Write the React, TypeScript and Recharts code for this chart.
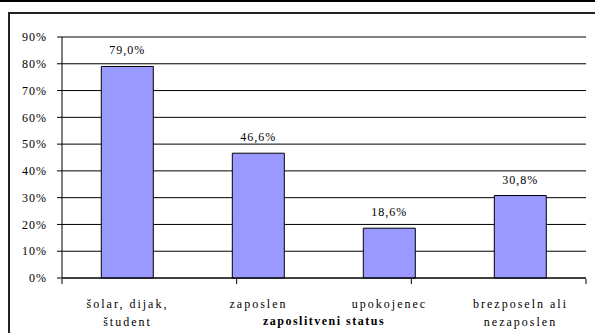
import { BarChart, Bar, XAxis, YAxis, CartesianGrid, LabelList } from 'recharts';

// Kategorije (zaposlitveni status) in deleži
const categories = ['šolar, dijak,\nštudent', 'zaposlen', 'upokojenec', 'brezposeln ali\nnezaposlen'];
const values = [79.0, 46.6, 18.6, 30.8];
const yTicks = [0, 10, 20, 30, 40, 50, 60, 70, 80, 90];
const bandEdges = [0, 1, 2, 3, 4];

const data = categories.map((name, i) => ({ name, value: values[i] }));

const FONT = 'Liberation Serif, Times New Roman, serif';

// dvovrstične oznake kategorij
const CategoryTick = ({ x, y, payload }: any) => {
  const lines = String(payload.value).split('\n');
  return (
    <text x={x} y={y} textAnchor="middle" style={{ fontFamily: FONT, fontSize: 12, letterSpacing: 2 }} fill="#000">
      {lines.map((line, i) => (
        <tspan key={i} x={x} dy={i === 0 ? 22 : 18}>
          {line}
        </tspan>
      ))}
    </text>
  );
};

export default function App() {
  return (
    <div style={{ position: 'fixed', left: 0, top: 0, width: 595, height: 333, overflow: 'hidden', background: '#fff', fontFamily: FONT }}>
      {/* zgornja črta in okvir grafikona */}
      <div style={{ position: 'absolute', left: 0, top: 0, width: 595, height: 2, background: '#000' }} />
      <div style={{ position: 'absolute', left: 8, top: 12, width: 600, height: 340, border: '2px solid #222' }} />
      <div style={{ position: 'absolute', left: 0, top: 0 }}>
        <BarChart
          width={595}
          height={333}
          data={data}
          margin={{ top: 37, right: 9, left: 0, bottom: 0 }}
          barCategoryGap="30%"
        >
          <CartesianGrid horizontal={true} vertical={false} stroke="#000" strokeOpacity={1} />
          <XAxis
            dataKey="name"
            tick={<CategoryTick />}
            tickLine={false}
            axisLine={{ stroke: '#000' }}
            interval={0}
            height={1}
            label={{
              value: 'zaposlitveni status',
              position: 'insideBottom',
              offset: -46,
              style: { fontFamily: FONT, fontSize: 12, fontWeight: 'bold', letterSpacing: 1.5 },
              fill: '#000',
            }}
          />
          {/* oznake na mejah kategorij */}
          <XAxis
            xAxisId="edges"
            type="number"
            domain={[0, 4]}
            ticks={bandEdges}
            tickFormatter={() => ''}
            axisLine={false}
            tickLine={{ stroke: '#000' }}
            tickSize={5}
            height={54}
          />
          <YAxis
            domain={[0, 90]}
            ticks={yTicks}
            tickFormatter={(v: number) => `${v}%`}
            width={62}
            tickSize={5}
            tickMargin={10}
            axisLine={{ stroke: '#000' }}
            tickLine={{ stroke: '#000' }}
            tick={{ fill: '#000', fontSize: 12, style: { fontFamily: FONT, letterSpacing: 1 } }}
            interval={0}
          />
          <YAxis
            yAxisId="border"
            orientation="right"
            width={0}
            tick={false}
            tickLine={false}
            axisLine={{ stroke: '#808080', strokeWidth: 2 }}
          />
          <Bar dataKey="value" fill="#9999FF" stroke="#000" strokeWidth={1} isAnimationActive={false}>
            <LabelList
              dataKey="value"
              position="top"
              offset={12}
              formatter={(v: any) => `${Number(v).toFixed(1).replace('.', ',')}%`}
              style={{ fill: '#000', fontSize: 12, fontFamily: FONT, letterSpacing: 1 }}
            />
          </Bar>
        </BarChart>
      </div>
    </div>
  );
}
